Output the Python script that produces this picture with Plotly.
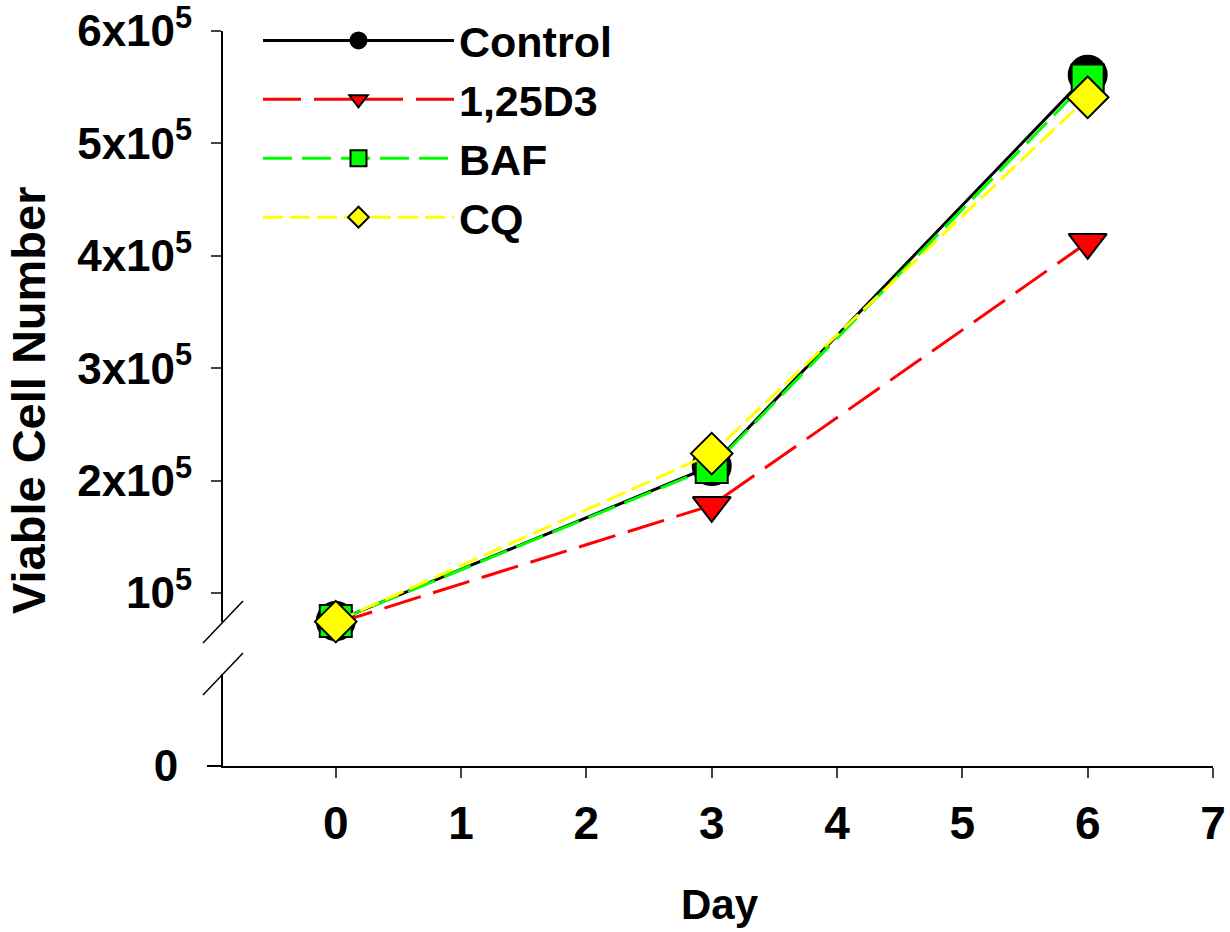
import plotly.graph_objects as go

days = [0, 3, 6]
series_names = ["Control", "1,25D3", "BAF", "CQ"]
control = [75000, 213000, 561000]
d3 = [73000, 178000, 412000]
baf = [75000, 212000, 556000]
cq = [74500, 224000, 541000]

y_tickvals = [100000, 200000, 300000, 400000, 500000, 600000]
y_ticktext = ["10<sup>5</sup>", "2x10<sup>5</sup>", "3x10<sup>5</sup>", "4x10<sup>5</sup>",
              "5x10<sup>5</sup>", "6x10<sup>5</sup>"]
x_tickvals = [0, 1, 2, 3, 4, 5, 6, 7]

FONT = "Liberation Sans"
W, H = 1230, 932
L, R, T, B = 223, 17, 31, 166
PW, PH = W - L - R, H - T - B

def px_x(p):
    return (p - L) / PW

def px_y(p):
    return (H - B - p) / PH

styles = [
    dict(color="#000000", dash="solid", symbol="circle", size=38, mcolor="#000000"),
    dict(color="#FF0000", dash="38px,13px", symbol="triangle-down", size=33, mcolor="#FF0000"),
    dict(color="#00FF00", dash="29px,10px", symbol="square", size=32, mcolor="#00FF00"),
    dict(color="#FFFF00", dash="20px,7px", symbol="diamond", size=32, mcolor="#FFFF00"),
]

fig = go.Figure()
# empty trace so that the lower (broken) y-axis segment gets its own subplot
fig.add_trace(go.Scatter(x=[], y=[], xaxis="x", yaxis="y", showlegend=False,
                         hoverinfo="skip", mode="markers"))
for name, vals, st in zip(series_names, [control, d3, baf, cq], styles):
    fig.add_trace(go.Scatter(
        x=days, y=vals, name=name, mode="lines+markers", xaxis="x", yaxis="y2",
        line=dict(color=st["color"], width=3, dash=st["dash"]),
        marker=dict(symbol=st["symbol"], size=st["size"], color=st["mcolor"],
                    line=dict(color="#000000", width=2)),
        cliponaxis=False,
    ))

upper_bottom = 622
upper_domain0 = px_y(upper_bottom)
lower_top = 674
lower_domain1 = px_y(lower_top)
per_px = 100000 / 112.4
y2_min = 100000 - (upper_bottom - 593) * per_px

TICKFONT = dict(family=FONT, size=44, color="black", weight="bold")

fig.update_layout(
    width=W, height=H,
    margin=dict(l=L, r=R, t=T, b=B, autoexpand=False),
    paper_bgcolor="white", plot_bgcolor="white",
    font=dict(family=FONT, size=40, color="black", weight="bold"),
    showlegend=True,
    legend=dict(x=px_x(258), y=px_y(6), xanchor="left", yanchor="top",
                bgcolor="rgba(0,0,0,0)", itemwidth=191,
                font=dict(family=FONT, size=43, color="black", weight="bold"),
                tracegroupgap=0),
    xaxis=dict(range=[-0.9, 7.0], tickvals=x_tickvals, ticks="outside", ticklen=10,
               tickwidth=2, showline=True, linewidth=2, linecolor="black",
               showgrid=False, zeroline=False, anchor="y", ticklabelstandoff=6,
               ticklabeloverflow="allow",
               tickfont=dict(family=FONT, size=46, color="black", weight="bold")),
    yaxis=dict(domain=[0, lower_domain1], range=[0, 80000], tickvals=[0], ticktext=["0"],
               ticks="outside", ticklen=10, tickwidth=2, showline=True, linewidth=2,
               linecolor="black", showgrid=False, zeroline=False, anchor="x",
               ticklabelstandoff=24, ticklabeloverflow="allow", tickfont=TICKFONT),
    yaxis2=dict(domain=[upper_domain0, 1], range=[y2_min, 600000], tickvals=y_tickvals,
                ticktext=y_ticktext, ticks="outside", ticklen=10, tickwidth=2,
                showline=True, linewidth=2, linecolor="black", showgrid=False,
                zeroline=False, anchor="x", ticklabelstandoff=10,
                ticklabeloverflow="allow", tickfont=TICKFONT),
    annotations=[
        dict(text="Viable Cell Number", xref="paper", yref="paper", x=px_x(28), y=px_y(400),
             xanchor="center", yanchor="middle", textangle=-90, showarrow=False,
             font=dict(family=FONT, size=47, weight="bold")),
        dict(text="Day", xref="paper", yref="paper", x=px_x(720), y=px_y(905),
             xanchor="center", yanchor="middle", showarrow=False,
             font=dict(family=FONT, size=42, weight="bold")),
    ],
    shapes=[
        dict(type="line", xref="paper", yref="paper", x0=px_x(203), y0=px_y(643),
             x1=px_x(243), y1=px_y(601), line=dict(color="black", width=1.5)),
        dict(type="line", xref="paper", yref="paper", x0=px_x(203), y0=px_y(695),
             x1=px_x(243), y1=px_y(653), line=dict(color="black", width=1.5)),
        dict(type="line", xref="paper", yref="paper", x0=px_x(207), y0=0,
             x1=0, y1=0, line=dict(color="black", width=2)),
    ],
)

fig.write_html("out.html", config={"displayModeBar": False},
               post_script="document.body.style.margin='0';")
